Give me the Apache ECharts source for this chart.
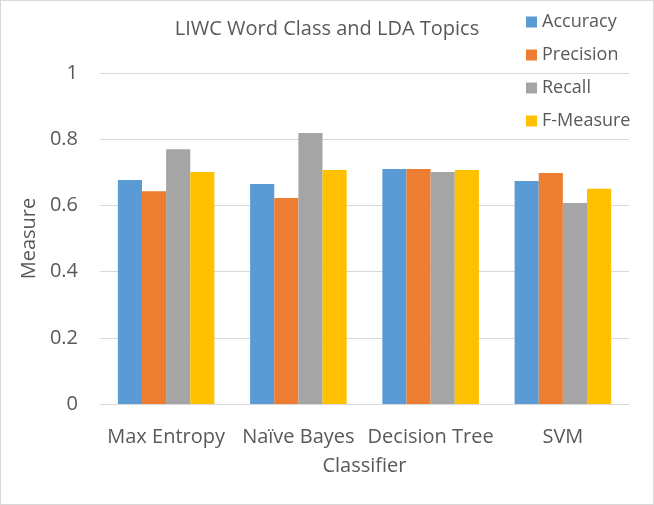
<!DOCTYPE html>
<html>
<head>
<meta charset="utf-8">
<script src="https://cdn.jsdelivr.net/npm/echarts@6/dist/echarts.min.js"></script>
<style>
  html, body { margin: 0; padding: 0; background: #fff; }
  #chart { width: 652px; height: 503px; border: 1px solid #d9d9d9; }
</style>
</head>
<body>
<div id="chart"></div>
<script>
// data
const categories = ['Max Entropy', 'Naïve Bayes', 'Decision Tree', 'SVM']
const accuracy = [0.677, 0.665, 0.710, 0.674]
const precision = [0.643, 0.622, 0.710, 0.698]
const recall = [0.770, 0.819, 0.701, 0.607]
const fMeasure = [0.701, 0.707, 0.707, 0.650]
const yTicks = [0, 0.2, 0.4, 0.6, 0.8, 1]

const font = 'Open Sans'
const gray = '#595959'

const myChart = echarts.init(document.getElementById('chart'))

const makeSeries = (name, data, color) => ({
  name,
  type: 'bar',
  data,
  barGap: 0,
  barCategoryGap: '27%',
  itemStyle: { color },
  animation: false
})

myChart.setOption({
  textStyle: { fontFamily: font },
  title: {
    text: 'LIWC Word Class and LDA Topics',
    left: 'center',
    top: 13,
    textStyle: { fontFamily: font, fontSize: 20, fontWeight: 'normal', color: gray }
  },
  legend: {
    orient: 'vertical',
    left: 520,
    top: 6,
    itemWidth: 11,
    itemHeight: 11,
    itemGap: 13,
    icon: 'rect',
    textStyle: { fontFamily: font, fontSize: 18, lineHeight: 20, color: gray },
    data: ['Accuracy', 'Precision', 'Recall', 'F-Measure']
  },
  grid: {
    left: 99,
    right: 24,
    top: 72,
    bottom: 100
  },
  xAxis: {
    type: 'category',
    data: categories,
    name: 'Classifier',
    nameLocation: 'middle',
    nameGap: 52,
    nameTextStyle: { fontSize: 20, color: gray },
    axisLine: { lineStyle: { color: '#d9d9d9' } },
    axisTick: { show: false },
    axisLabel: { fontSize: 20, color: gray, margin: 23, interval: 0 }
  },
  yAxis: {
    type: 'value',
    min: 0,
    max: 1,
    interval: 0.2,
    name: 'Measure',
    nameLocation: 'middle',
    nameGap: 50,
    nameTextStyle: { fontSize: 20, color: gray },
    axisLine: { show: false },
    axisTick: { show: false },
    splitLine: { lineStyle: { color: '#d9d9d9' } },
    axisLabel: {
      fontSize: 20,
      color: gray,
      margin: 22,
      formatter: v => yTicks.includes(v) ? String(v) : ''
    }
  },
  series: [
    makeSeries('Accuracy', accuracy, '#5b9bd5'),
    makeSeries('Precision', precision, '#ed7d31'),
    makeSeries('Recall', recall, '#a5a5a5'),
    makeSeries('F-Measure', fMeasure, '#ffc000')
  ]
})
</script>
</body>
</html>
